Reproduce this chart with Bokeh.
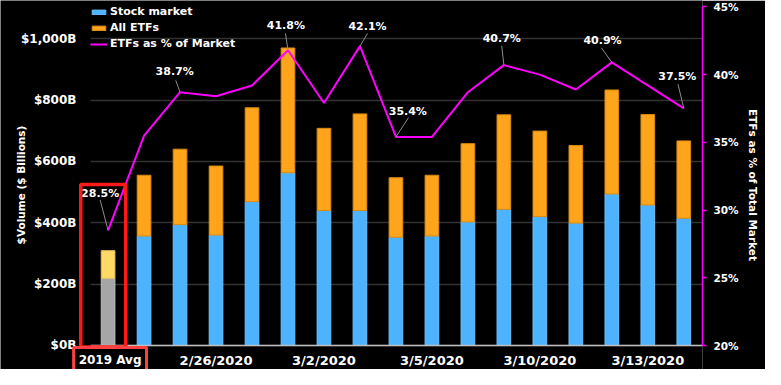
from bokeh.plotting import figure
from bokeh.models import (Range1d, LinearAxis, FixedTicker, PrintfTickFormatter,
                          Legend, LegendItem, BoxAnnotation, Label, ColumnDataSource)
from bokeh.core.properties import value
from bokeh.embed import file_html
from bokeh.resources import INLINE

# ---------------- data ----------------
categories = ["2019 Avg", "2/24/2020", "2/25/2020", "2/26/2020", "2/27/2020", "2/28/2020",
              "3/2/2020", "3/3/2020", "3/4/2020", "3/5/2020", "3/6/2020", "3/9/2020",
              "3/10/2020", "3/11/2020", "3/12/2020", "3/13/2020", "3/16/2020"]
stock_market = [219, 357, 394, 360, 469, 563, 440, 440, 353, 357, 403, 444, 420, 399, 494, 458, 415]
all_etfs = [90, 198, 246, 225, 306, 407, 268, 315, 194, 198, 255, 308, 279, 253, 339, 295, 252]
etf_pct = [28.5, 35.5, 38.7, 38.4, 39.2, 41.8, 37.9, 42.1, 35.4, 35.4, 38.7, 40.7, 40.0, 38.9, 40.9, 39.2, 37.5]
labelled_idx = [0, 2, 5, 7, 8, 11, 14, 16]

left_ticks = [0, 200, 400, 600, 800, 1000]
left_tick_labels = ["$0B", "$200B", "$400B", "$600B", "$800B", "$1,000B"]
right_ticks = [20, 25, 30, 35, 40, 45]
x_tick_idx = [0, 3, 6, 9, 12, 15]

# ---------------- layout of annotations (data units) ----------------
label_xy = [(-0.22, 31.24), (1.85, 40.21), (4.94, 43.63), (7.21, 43.53),
            (8.33, 37.31), (10.94, 42.69), (13.74, 42.54), (15.82, 39.86)]
leader_xy = [(-0.22, 30.74), (1.88, 39.58), (4.93, 43.04), (7.21, 43.04),
             (8.35, 36.82), (10.94, 42.12), (13.71, 41.98), (15.84, 39.29)]
X_LO, X_HI = -0.49, 16.52          # extent of plotted categories (grid / baseline)

BLUE = "#4db3ff"
ORANGE = "#ffa41b"
GREY = "#a6a6a6"
YELLOW = "#ffd966"
MAGENTA = "#ff00ff"
FONT = "DejaVu Sans"

n = len(categories)
idx = list(range(n))
totals = [s + e for s, e in zip(stock_market, all_etfs)]

p = figure(width=765, height=369, output_backend="svg", toolbar_location=None,
           x_range=Range1d(-2.99, 16.52), y_range=Range1d(-78.3, 1124.8),
           min_border_left=0, min_border_right=63, min_border_top=0, min_border_bottom=0)
p.background_fill_color = "black"
p.border_fill_color = "black"
p.outline_line_color = None
p.extra_y_ranges = {"pct": Range1d(18.23, 45.47)}

# grid
p.xgrid.grid_line_color = None
yg = p.ygrid[0]
yg.ticker = FixedTicker(ticks=left_ticks)
yg.grid_line_color = "#333333"
yg.grid_line_width = 1.5
if "cross_bounds" in yg.properties():
    yg.cross_bounds = (X_LO, X_HI)

main = ColumnDataSource(dict(x=idx[1:], stock=stock_market[1:], top=totals[1:]))
avg = ColumnDataSource(dict(x=idx[:1], stock=stock_market[:1], top=totals[:1]))

r_stock = p.vbar(x="x", bottom=0, top="stock", width=0.38, source=main,
                 fill_color=BLUE, line_color="#6cc2ff", line_width=1)
r_etf = p.vbar(x="x", bottom="stock", top="top", width=0.38, source=main,
               fill_color=ORANGE, line_color="#d88a12", line_width=1)
p.vbar(x="x", bottom=0, top="stock", width=0.38, source=avg,
       fill_color=GREY, line_color="#bdbdbd", line_width=1)
p.vbar(x="x", bottom="stock", top="top", width=0.38, source=avg,
       fill_color=YELLOW, line_color="#e6c25a", line_width=1)

r_line = p.line(idx, etf_pct, y_range_name="pct", line_color=MAGENTA, line_width=2)

lab_src = ColumnDataSource(dict(
    x=[xy[0] for xy in label_xy], y=[xy[1] for xy in label_xy],
    x0=[xy[0] for xy in leader_xy], y0=[xy[1] for xy in leader_xy],
    x1=labelled_idx, y1=[etf_pct[i] for i in labelled_idx],
    text=["%.1f%%" % etf_pct[i] for i in labelled_idx]))
p.segment(x0="x0", y0="y0", x1="x1", y1="y1", source=lab_src, y_range_name="pct",
          line_color="#8c8c8c", line_width=1)
p.text(x="x", y="y", text="text", source=lab_src, y_range_name="pct",
       text_font=value(FONT), text_font_style="bold", text_font_size="11px",
       text_color="white", text_align="center", text_baseline="middle")

# left axis (drawn at the start of the category area)
la = p.yaxis[0]
la.fixed_location = X_LO
la.ticker = FixedTicker(ticks=left_ticks)
la.major_label_overrides = {t: l for t, l in zip(left_ticks, left_tick_labels)}
la.axis_line_color = None
la.major_tick_line_color = None
la.minor_tick_line_color = None
la.major_label_standoff = 8
la.axis_label = "$Volume ($ Billions)"
la.axis_label_standoff = -9
la.major_label_text_font_size = "12px"

# right axis
ra = LinearAxis(y_range_name="pct", ticker=FixedTicker(ticks=right_ticks),
                formatter=PrintfTickFormatter(format="%d%%"), bounds=(20, 45))
ra.axis_line_color = MAGENTA
ra.axis_line_width = 1.5
ra.major_tick_line_color = MAGENTA
ra.major_tick_line_width = 1.5
ra.major_tick_in = 0
ra.major_tick_out = 4
ra.minor_tick_line_color = None
ra.major_label_standoff = 7
ra.axis_label = "ETFs as % of Total Market"
ra.axis_label_standoff = 5
ra.major_label_text_font_size = "10.5px"
p.add_layout(ra, "right")

# bottom axis (drawn at the $0B baseline)
xa = p.xaxis[0]
xa.fixed_location = 0
xa.bounds = (X_LO, X_HI)
xa.ticker = FixedTicker(ticks=x_tick_idx)
xa.major_label_overrides = {i: ("" if i == 0 else categories[i]) for i in x_tick_idx}
xa.axis_line_color = "#bfbfbf"
xa.axis_line_width = 1.5
xa.major_tick_line_color = None
xa.minor_tick_line_color = None
xa.major_label_standoff = 2
xa.major_label_text_font_size = "13px"

for ax in (la, ra, xa):
    ax.major_label_text_color = "white"
    ax.major_label_text_font = FONT
    ax.major_label_text_font_style = "bold"
    ax.axis_label_text_color = "white"
    ax.axis_label_text_font = FONT
    ax.axis_label_text_font_style = "bold"
    ax.axis_label_text_font_size = "10.5px"

# highlight boxes
p.add_layout(BoxAnnotation(left=-0.76, right=0.49, bottom=-5, top=525,
                           fill_alpha=0, line_color="#ff1a1a", line_alpha=1.0,
                           line_width=3.5))
p.add_layout(Label(x=0.055, y=-46, text=categories[0], text_align="center",
                   text_baseline="middle", text_color="white", text_font=FONT,
                   text_font_style="bold", text_font_size="12px",
                   background_fill_color="black", border_line_color="#ff4040",
                   border_line_width=3, padding=5))

legend = Legend(items=[LegendItem(label="Stock market", renderers=[r_stock]),
                       LegendItem(label="All ETFs", renderers=[r_etf]),
                       LegendItem(label="ETFs as % of Market", renderers=[r_line])],
                location=(90, 318), background_fill_alpha=0, border_line_color=None,
                margin=0, padding=0, spacing=1, glyph_width=17, glyph_height=6,
                label_height=15, label_standoff=3,
                label_text_color="white", label_text_font=FONT,
                label_text_font_style="bold", label_text_font_size="11px")
p.add_layout(legend)

open("out.html", "w").write(file_html(p, INLINE))
